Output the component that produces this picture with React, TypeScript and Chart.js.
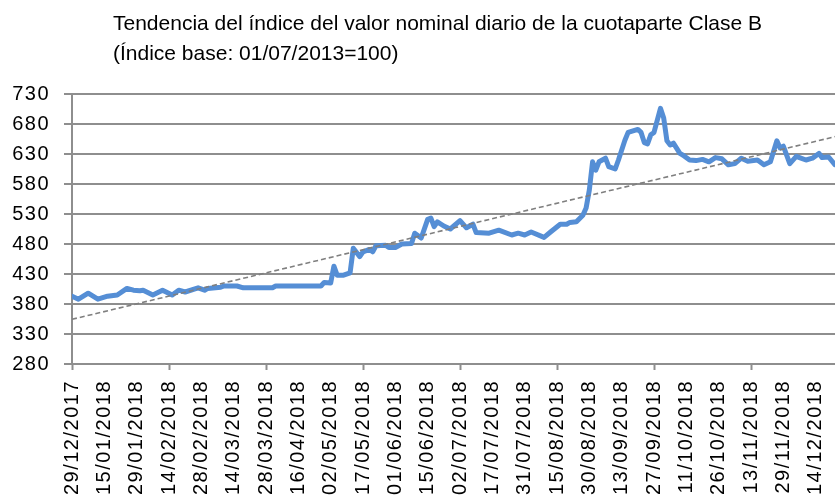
import React, { useEffect, useRef } from "react";
import { Chart, registerables } from "chart.js";

Chart.register(...registerables);

const titleLines = [
  "Tendencia del índice del valor nominal diario de la cuotaparte Clase B",
  "(Índice base: 01/07/2013=100)",
];

const dateLabels = [
  "29/12/2017", "15/01/2018", "29/01/2018", "14/02/2018", "28/02/2018",
  "14/03/2018", "28/03/2018", "16/04/2018", "02/05/2018", "17/05/2018",
  "01/06/2018", "15/06/2018", "02/07/2018", "17/07/2018", "31/07/2018",
  "15/08/2018", "30/08/2018", "13/09/2018", "27/09/2018", "11/10/2018",
  "26/10/2018", "13/11/2018", "29/11/2018", "14/12/2018", "28/12/2018",
];

const yTickValues = [280, 330, 380, 430, 480, 530, 580, 630, 680, 730];

// business-day index (0 = 29/12/2017) and index value
const dayIndex = [
  0, 2, 5, 8, 11, 14, 17, 19, 21, 22, 25, 28, 31, 33, 35, 39, 41, 42, 46, 47,
  51, 53, 62, 63, 77, 78, 80, 81, 82, 84, 86, 87, 89, 90, 92, 93, 94, 97, 98, 100,
  102, 105, 106, 108, 110, 111, 112, 113, 115, 117, 120, 122, 124, 125, 129, 132, 136, 138, 140, 142,
  146, 148, 151, 153, 154, 156, 158, 159, 160, 161, 162, 163, 165, 166, 168, 169, 171, 172, 175, 176,
  177, 178, 179, 180, 182, 183, 184, 185, 186, 188, 189, 191, 193, 195, 197, 199, 201, 203, 205, 207,
  209, 212, 214, 216, 218, 219, 220, 222, 224, 225, 227, 229, 231, 232, 234, 236, 238,
];
const indexValue = [
  393, 388, 398, 388, 393, 395, 406, 403, 402, 403, 395, 403, 395, 403, 400, 407, 403, 406, 408, 410,
  410, 407, 407, 410, 410, 416, 415, 443, 428, 428, 432, 473, 459, 467, 471, 467, 477, 478, 474, 474,
  480, 481, 498, 490, 521, 523, 509, 517, 510, 505, 519, 507, 513, 499, 498, 503, 495, 498, 495, 500,
  491, 500, 513, 513, 516, 517, 528, 540, 570, 617, 603, 617, 623, 609, 605, 620, 653, 666, 671, 666,
  649, 647, 662, 666, 706, 690, 652, 645, 648, 631, 628, 620, 619, 621, 617, 624, 622, 612, 614, 623,
  618, 620, 612, 617, 652, 640, 643, 614, 626, 624, 620, 623, 631, 624, 625, 612, 610,
];

const trendDays = [0, 240];
const trendValues = [354.5, 664];

const GRID = "#8e8e8e";
const TICK_FONT = { family: "Liberation Sans", size: 20 };
const CANVAS_W = 848;
const CANVAS_H = 520;
const PLOT_TOP = 94;
const PLOT_BOTTOM = 364;
const AXIS_LEFT = 72;

const spacingPlugin = {
  id: "tickSpacing",
  beforeDraw(chart: any) {
    (chart.ctx as any).letterSpacing = "1.5px";
  },
};

const titlePlugin = {
  id: "leftTitle",
  afterDraw(chart: any) {
    const ctx = chart.ctx;
    ctx.save();
    (ctx as any).letterSpacing = "0px";
    ctx.font = '21px "Liberation Sans"';
    ctx.fillStyle = "#000";
    ctx.textAlign = "left";
    ctx.textBaseline = "alphabetic";
    titleLines.forEach((t, i) => ctx.fillText(t, 113, 30 + i * 30));
    ctx.restore();
  },
};

export default function App() {
  const ref = useRef<HTMLCanvasElement | null>(null);

  useEffect(() => {
    if (!ref.current) return;
    const chart = new Chart(ref.current, {
      type: "line",
      data: {
        datasets: [
          {
            label: "Índice",
            data: dayIndex.map((d, i) => ({ x: d, y: indexValue[i] })),
            borderColor: "#558ED5",
            borderWidth: 5,
            pointRadius: 0,
            tension: 0,
            borderJoinStyle: "round",
            borderCapStyle: "round",
            order: 1,
          },
          {
            label: "Tendencia",
            data: trendDays.map((d, i) => ({ x: d, y: trendValues[i] })),
            borderColor: "#7f7f7f",
            borderWidth: 1.6,
            borderDash: [5, 3],
            pointRadius: 0,
            tension: 0,
            order: 0,
          },
        ],
      },
      options: {
        responsive: false,
        animation: false,
        devicePixelRatio: 1,
        layout: { padding: { top: PLOT_TOP, left: 0, right: 0, bottom: 0 } },
        plugins: {
          legend: { display: false },
          title: { display: false },
          tooltip: { enabled: false },
        },
        scales: {
          x: {
            type: "linear",
            min: 0,
            max: (dateLabels.length - 1) * 10,
            ticks: {
              stepSize: 10,
              autoSkip: false,
              minRotation: 90,
              maxRotation: 90,
              padding: 10,
              color: "#000",
              font: TICK_FONT,
              callback: (v: any) => dateLabels[Math.round(Number(v) / 10)] ?? "",
            },
            grid: {
              drawOnChartArea: false,
              drawTicks: true,
              tickLength: 6,
              tickWidth: 2,
              tickColor: (c: any) => (c.index % 3 === 0 ? GRID : "rgba(0,0,0,0)"),
            },
            border: { display: true, color: GRID, width: 2 },
            afterFit: (s: any) => {
              s.height = CANVAS_H - PLOT_BOTTOM;
              s.paddingLeft = 0;
              s.paddingRight = 0;
            },
          },
          y: {
            type: "linear",
            min: yTickValues[0],
            max: yTickValues[yTickValues.length - 1],
            afterBuildTicks: (s: any) => {
              s.ticks = yTickValues.map((v) => ({ value: v }));
            },
            ticks: {
              padding: 14,
              color: "#000",
              font: TICK_FONT,
            },
            grid: { color: GRID, lineWidth: 2, tickLength: 8 },
            border: { display: true, color: GRID, width: 2 },
            afterFit: (s: any) => {
              s.width = AXIS_LEFT;
              s.paddingTop = 0;
              s.paddingBottom = 0;
            },
          },
        },
      },
      plugins: [spacingPlugin, titlePlugin],
    } as any);
    return () => chart.destroy();
  }, []);

  return (
    <div
      style={{
        position: "fixed",
        left: 0,
        top: 0,
        width: 835,
        height: 495,
        overflow: "hidden",
        background: "#fff",
      }}
    >
      <canvas ref={ref} width={CANVAS_W} height={CANVAS_H} style={{ display: "block" }} />
    </div>
  );
}
